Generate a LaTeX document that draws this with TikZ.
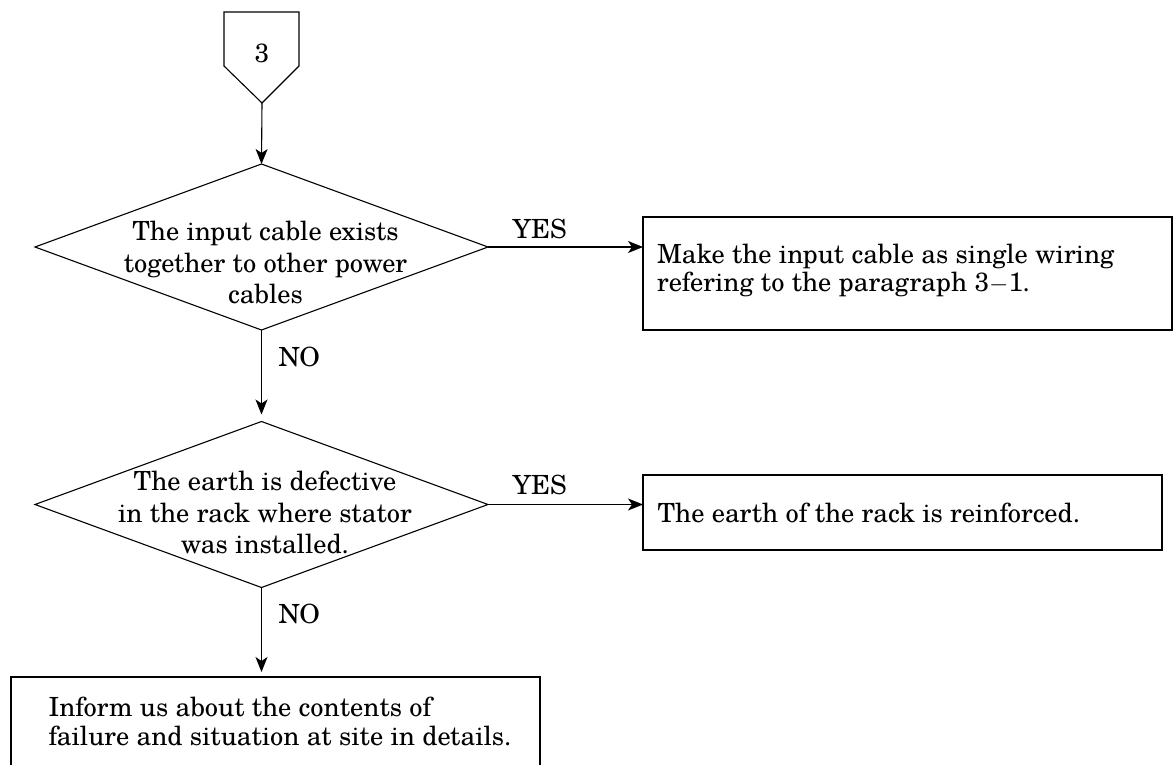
\documentclass[tikz,border=0pt]{standalone}
\usepackage{fontspec}
\setmainfont{TeX Gyre Schola}
\usetikzlibrary{shapes.geometric,arrows.meta}
\begin{document}
\begin{tikzpicture}[x=1pt,y=-1pt,
  line width=1.1pt,
  every node/.style={font=\fontsize{26.4}{31.5}\selectfont},
  arr/.style={-{Stealth[length=15pt,width=12pt,inset=4pt]}},
  dec/.style={diamond, draw, minimum width=453pt, minimum height=166pt, inner sep=0pt, outer sep=0pt},
  boxn/.style={draw, rectangle, inner sep=0pt, outer sep=0pt},
  txt/.style={inner sep=0pt, align=center, anchor=north},
  ltxt/.style={inner sep=0pt, align=left, anchor=north west},
  lbl/.style={inner sep=0pt}
]
\useasboundingbox (0,0) rectangle (1173,765);

% off-page connector
\draw (224,12) -- (299,12) -- (299,66) -- (262,103) -- (224,66) -- cycle;
\node[lbl] (n3) at (262,53) {3};
\coordinate (ptip) at (262,103);

% decisions
\node[dec] (d1) at (261.5,247) {};
\node[txt] (t1) at (265.5,220.7) {The input cable exists\\together to other power\\cables};
\node[dec] (d2) at (261.5,504.5) {};
\node[txt] (t2) at (265,470.5) {The earth is defective\\in the rack where stator\\was installed.};

% boxes
\node[boxn, minimum width=529pt, minimum height=113pt] (b1) at (907.5,273.5) {};
\node[ltxt, font=\fontsize{26.4}{27.6}\selectfont] (tb1) at (656.5,243.5) {Make the input cable as single wiring\\refering to the paragraph 3$-$1.};
\node[boxn, minimum width=519pt, minimum height=75pt] (b2) at (902.5,512.5) {};
\node[lbl, anchor=base west] (tb2) at (657,522) {The earth of the rack is reinforced.};
\node[boxn, minimum width=529pt, minimum height=110pt] (b3) at (275.5,732) {};
\node[ltxt, font=\fontsize{26.4}{29}\selectfont] (tb3) at (48,696.7) {Inform us about the contents of\\failure and situation at site in details.};

% labels
\node[lbl, anchor=base west] (y1) at (512,238) {YES};
\node[lbl, anchor=base west] (y2) at (512,494) {YES};
\node[lbl, anchor=base west] (no1) at (278,366) {NO};
\node[lbl, anchor=base west] (no2) at (278,623) {NO};

% connectors
\draw[arr] (ptip) -- (d1.north);
\draw[arr, shorten >=7pt] (d1.south) -- (d2.north);
\draw[arr, shorten >=5pt] (d2.south) -- (d2.south |- b3.north);
\draw[arr] (d1.east) -- (d1.east -| b1.west);
\draw[arr] (d2.east) -- (d2.east -| b2.west);
\end{tikzpicture}
\end{document}
